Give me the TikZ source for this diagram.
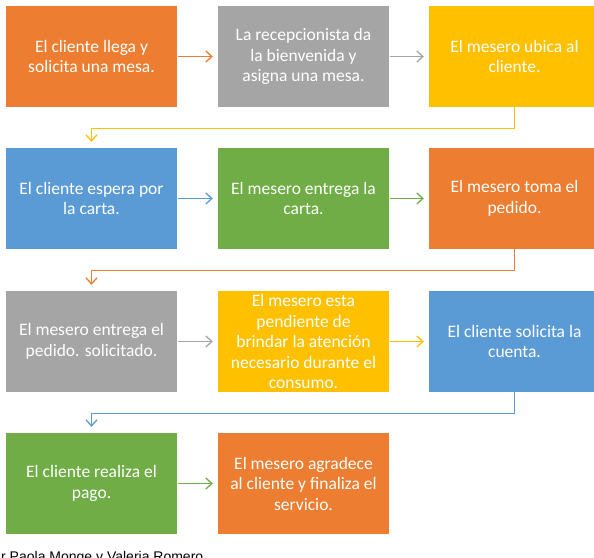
\documentclass[tikz,border=0pt]{standalone}
\usepackage{fontspec}
\setmainfont{Carlito}
\newfontfamily\capfont{Liberation Sans}
\usetikzlibrary{arrows.meta}
\definecolor{cOrange}{HTML}{ED7D31}
\definecolor{cGray}{HTML}{A5A5A5}
\definecolor{cYellow}{HTML}{FFC000}
\definecolor{cBlue}{HTML}{5B9BD5}
\definecolor{cGreen}{HTML}{70AD47}
\tikzset{
  stepbox/.style={rectangle, minimum width=171pt, minimum height=101pt, inner sep=0pt,
    text=white, align=center, font=\fontsize{17.5}{20.5}\selectfont},
  flow/.style={draw=#1, line width=1.3pt, -{Straight Barb[length=6pt,width=11pt,line width=1.3pt]}},
  hflow/.style={flow=#1, shorten <=1pt, shorten >=5pt},
  vflow/.style={flow=#1, shorten >=6pt, rounded corners=0pt}
}
\begin{document}
\begin{tikzpicture}[x=1pt,y=-1pt]
\useasboundingbox (0,0) rectangle (594,557);
\clip (0,0) rectangle (594,557);
\fill[white] (0,0) rectangle (594,557);
% row 1
\node[stepbox, fill=cOrange] (n1) at (91.5,56.5) {El cliente llega y\\solicita una mesa.};
\node[stepbox, fill=cGray] (n2) at (303.5,56.5) {La recepcionista da\\la bienvenida y\\asigna una mesa.};
\node[stepbox, fill=cYellow] (n3) at (514.5,56.5) {El mesero ubica al\\cliente.};
% row 2
\node[stepbox, fill=cBlue] (n4) at (91.5,198.5) {El cliente espera por\\la carta.};
\node[stepbox, fill=cGreen] (n5) at (303.5,198.5) {El mesero entrega la\\carta.};
\node[stepbox, fill=cOrange] (n6) at (514.5,198.5) {El mesero toma el\\pedido.};
% row 3
\node[stepbox, fill=cGray] (n7) at (91.5,341.5) {El mesero entrega el\\pedido. solicitado.};
\node[stepbox, fill=cYellow] (n8) at (303.5,341.5) {El mesero esta\\pendiente de\\brindar la atención\\necesario durante el\\consumo.};
\node[stepbox, fill=cBlue] (n9) at (514.5,341.5) {El cliente solicita la\\cuenta.};
% row 4
\node[stepbox, fill=cGreen] (n10) at (91.5,483.5) {El cliente realiza el\\pago.};
\node[stepbox, fill=cOrange] (n11) at (303.5,483.5) {El mesero agradece\\al cliente y finaliza el\\servicio.};
% connectors
\draw[hflow=cOrange] (n1) -- (n2);
\draw[hflow=cGray] (n2) -- (n3);
\draw[vflow=cYellow] (n3.south) -- ++(0,21) -| (n4.north);
\draw[hflow=cBlue] (n4) -- (n5);
\draw[hflow=cGreen] (n5) -- (n6);
\draw[vflow=cOrange] (n6.south) -- ++(0,21) -| (n7.north);
\draw[hflow=cGray] (n7) -- (n8);
\draw[hflow=cYellow] (n8) -- (n9);
\draw[vflow=cBlue] (n9.south) -- ++(0,21) -| (n10.north);
\draw[hflow=cGreen] (n10) -- (n11);
% caption
\node[anchor=base west, inner sep=0pt, font=\capfont\fontsize{14}{16}\selectfont, text=black] (cap) at (1,561) {r Paola Monge y Valeria Romero};
\end{tikzpicture}
\end{document}
